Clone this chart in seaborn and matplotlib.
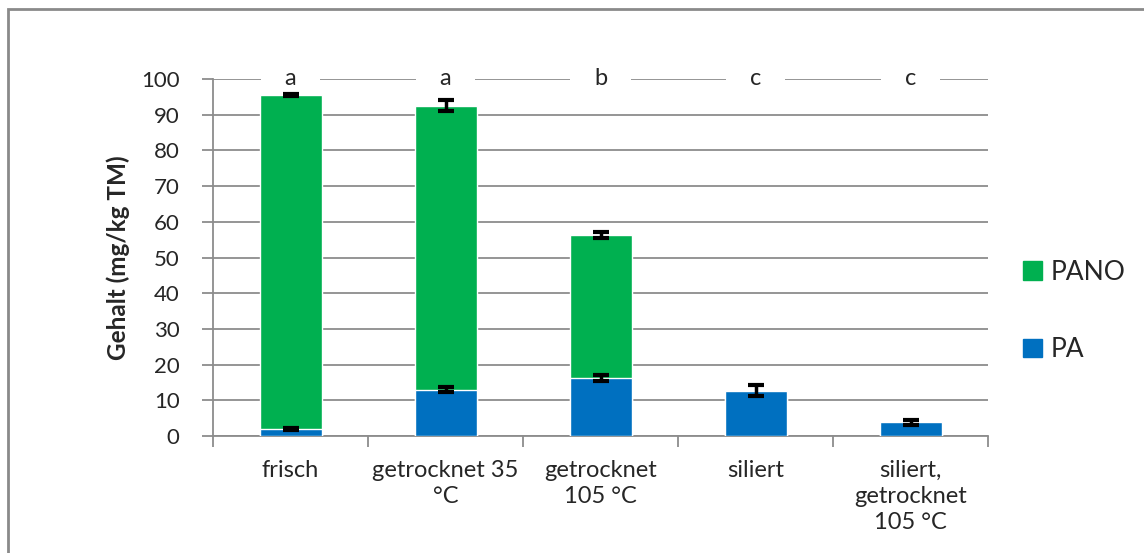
import numpy as np
import pandas as pd
import matplotlib
matplotlib.use("Agg")
import matplotlib.pyplot as plt
from matplotlib.patches import Patch, Rectangle
import seaborn as sns

categories = ["frisch", "getrocknet 35\n°C", "getrocknet\n105 °C", "siliert", "siliert,\ngetrocknet\n105 °C"]
pa = [2.0, 13.0, 16.2, 12.7, 3.8]
pano = [93.4, 79.5, 40.1, 0.0, 0.0]
pa_err = [0.3, 0.8, 0.8, 1.5, 0.7]
total_err = [0.3, 1.5, 0.8, 0.0, 0.0]
letters = ["a", "a", "b", "c", "c"]

GREEN = "#00B050"
BLUE = "#0070C0"
GRID = "#8c8c8c"

sns.set_theme(style="white")
plt.rcParams["font.family"] = ["Lato", "DejaVu Sans"]

total = [a + b for a, b in zip(pa, pano)]
df = pd.DataFrame({"cat": categories, "PA": pa, "PANO": pano, "total": total})

fig = plt.figure(figsize=(11.44, 5.53), dpi=100)
ax = fig.add_axes([213 / 1144, 117 / 553, (988 - 213) / 1144, (436 - 79) / 553])

sns.barplot(data=df, x="cat", y="total", color=GREEN, width=0.4, saturation=1,
            ax=ax, zorder=3, errorbar=None)
sns.barplot(data=df, x="cat", y="PA", color=BLUE, width=0.4, saturation=1,
            ax=ax, zorder=3, errorbar=None)

x = np.arange(len(categories))
ax.errorbar(x, pa, yerr=pa_err, fmt="none", ecolor="black", elinewidth=2.5,
            capsize=6, capthick=3, zorder=4)
mask = np.array(pano) > 0
ax.errorbar(x[mask], np.array(total)[mask], yerr=np.array(total_err)[mask], fmt="none",
            ecolor="black", elinewidth=2.5, capsize=6, capthick=3, zorder=4)

for i, l in enumerate(letters):
    ax.text(i, 100, l, ha="center", va="center", fontsize=17, zorder=2,
            bbox=dict(boxstyle="square,pad=1.0", fc="white", ec="none"))

ax.set_ylim(0, 100)
ax.set_xlim(-0.5, len(categories) - 0.5)
ax.set_yticks(np.arange(0, 101, 10))
ax.yaxis.grid(True, color=GRID, linewidth=1.3)
ax.set_axisbelow(True)
ax.tick_params(axis="y", labelsize=16, length=8, width=1.3, color=GRID, left=True, pad=16)
ax.set_xticks(x)
ax.set_xticklabels(categories, fontsize=17, linespacing=1.3)
ax.tick_params(axis="x", which="major", length=0, pad=17)
ax.set_xticks(np.arange(-0.5, len(categories), 1), minor=True)
ax.tick_params(axis="x", which="minor", length=8, width=1.3, color=GRID, bottom=True)
for lbl in ax.get_xticklabels():
    lbl.set_va("top")
ax.set_xlabel("")
ax.set_ylabel("Gehalt (mg/kg TM)", fontsize=17.5, fontweight="bold", labelpad=8)
for s in ["top", "right"]:
    ax.spines[s].set_visible(False)
for s in ["left", "bottom"]:
    ax.spines[s].set_color(GRID)
    ax.spines[s].set_linewidth(1.3)

handles = [Patch(color=GREEN, label="PANO"), Patch(color=BLUE, label="PA")]
ax.legend(handles=handles, loc="center left", bbox_to_anchor=(1.015, 0.35), frameon=False,
          fontsize=19, handlelength=0.7, handleheight=0.7, handletextpad=0.35,
          labelspacing=2.0)

fig.patches.append(Rectangle((8 / 1144, -0.1), 1.2, (553 - 9) / 553 + 0.1,
                             transform=fig.transFigure, fill=False, ec="#8a8a8a", lw=2))

fig.savefig("out.png", dpi=100)
